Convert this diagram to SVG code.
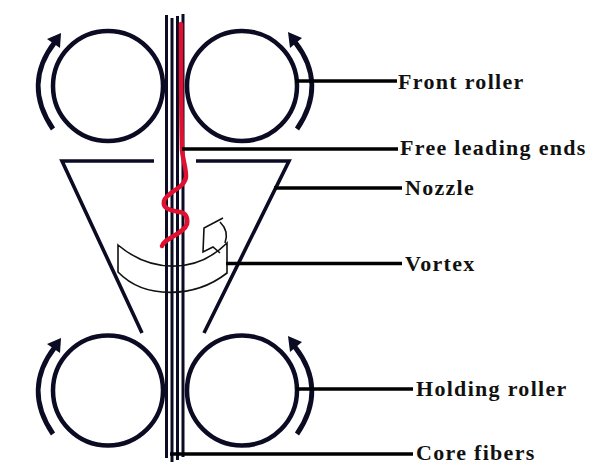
<svg xmlns="http://www.w3.org/2000/svg" width="597" height="468" viewBox="0 0 597 468">
<style>
.roller{fill:none;stroke:#0b0b24;stroke-width:4.500}
.rot{fill:none;stroke:#0b0b24;stroke-width:5}
.head{fill:#0b0b24}
.fiber{fill:none;stroke:#0b0b24;stroke-width:3}
.noz{fill:none;stroke:#0b0b24;stroke-width:3.600}
.lead{fill:none;stroke:#000;stroke-width:3.600}
.thin{fill:none;stroke:#111;stroke-width:1.600}
text{font-family:"Liberation Serif","Times New Roman",serif;font-weight:bold;font-size:22px;letter-spacing:1.300px;fill:#111}
</style>
<rect width="597" height="468" fill="#fff"/>
<g id="front-roller-left"><circle class="roller" cx="108" cy="86" r="55"/><path class="rot" d="M53 129C33 100 33 70 55 42"/><path class="head" d="M61 33L47 39L60 48Z"/></g>
<g id="front-roller-right"><circle class="roller" cx="242" cy="86" r="55"/><path class="rot" d="M297 129C317 100 317 70 295 42"/><path class="head" d="M288 32L302 38L290 48Z"/></g>
<g id="holding-roller-left"><circle class="roller" cx="108" cy="390.500" r="55"/><path class="rot" d="M53 434C33 405 33 375 55 347"/><path class="head" d="M61 338L47 344L60 353Z"/></g>
<g id="holding-roller-right"><circle class="roller" cx="242" cy="390.500" r="55"/><path class="rot" d="M297 434C317 405 317 375 295 347"/><path class="head" d="M288 336L302 342L290 352Z"/></g>
<g id="nozzle"><path class="noz" d="M154 161H62L142 333"/><path class="noz" d="M196 161H289L204 333"/></g>
<g id="core-fibers"><path class="fiber" d="M166.500 15V458"/><path class="fiber" d="M172 18V462"/><path class="fiber" d="M177.500 16V460"/><path class="fiber" d="M183 14V457"/></g>
<g id="vortex"><path class="thin" d="M118 245C150 272 195 275 227 243V273C195 298 145 300 118 272Z"/><path class="thin" d="M225 243C228 235 226 228 220 222M223 218L204 228L203 252L213 247L220 253"/></g>
<g id="free-leading-end"><path fill="none" stroke="#e01030" stroke-width="4.500" stroke-linecap="round" d="M181 24C181 60 181 110 182 150C183 160 186 168 186 176C186 188 166 192 164 201C162 210 174 211 180 212C186 213 188 218 187 224C184 234 164 238 162 246"/></g>
<g id="connectors"><path class="lead" d="M295 81H397"/><path class="lead" d="M182 149H398"/><path class="lead" d="M274 188H402"/><path class="lead" d="M226 263.500H402"/><path class="lead" d="M296 389H413"/><path class="lead" d="M170 454H413"/></g>
<g id="labels"><text x="398" y="89">Front roller</text><text x="400" y="155">Free leading ends</text><text x="405" y="195">Nozzle</text><text x="405" y="271">Vortex</text><text x="416" y="396">Holding roller</text><text x="416" y="460">Core fibers</text></g>
</svg>
